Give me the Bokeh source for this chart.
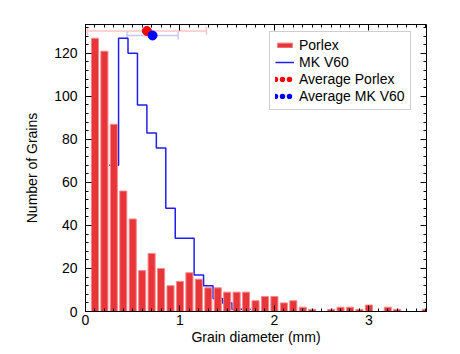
from bokeh.plotting import figure
from bokeh.models import (Range1d, LinearAxis, Legend, LegendItem, Whisker, ColumnDataSource,
                          SingleIntervalTicker, TeeHead, CustomJSTickFormatter)
from bokeh.embed import file_html
from bokeh.resources import INLINE

# ---- data ----
porlex_bins = [0.1, 0.2, 0.3, 0.4, 0.5, 0.6, 0.7, 0.8, 0.9, 1.0, 1.1, 1.2, 1.3, 1.4, 1.5, 1.6, 1.7, 1.8,
               1.9, 2.0, 2.1, 2.2, 2.3, 2.4, 2.5, 2.6, 2.7, 2.8, 2.9, 3.0, 3.1, 3.2, 3.3, 3.4, 3.5, 3.6]
porlex_counts = [127, 121, 87, 56, 43, 19, 27, 20, 12, 14, 18, 15, 11, 11, 9, 9, 9, 5,
                 7, 7, 4, 5, 2, 1, 0, 1, 2, 2, 1, 3, 0, 2, 1, 0, 0, 1]

mk_bins = [0.3, 0.4, 0.5, 0.6, 0.7, 0.8, 0.9, 1.0, 1.1, 1.2, 1.3, 1.4, 1.5, 1.6, 1.7]
mk_counts = [68, 127, 120, 96, 83, 76, 48, 34, 34, 17, 12, 6, 4, 1, 1]
bin_width = 0.1

avg_porlex_mean = 0.65
avg_porlex_std = 0.63
avg_porlex_y = 130.4
avg_mk_mean = 0.71
avg_mk_std = 0.27
avg_mk_y = 128.3

x_ticks_interval = 1
y_ticks_interval = 20

FONT = "Liberation Sans"

p = figure(width=460, height=354, x_range=Range1d(0, 3.61), y_range=Range1d(0, 133.4),
           output_backend="svg", toolbar_location=None,
           min_border_left=85, min_border_right=34, min_border_top=24, min_border_bottom=43)
p.grid.visible = False
p.outline_line_color = None

# step outline for MK V60
sx, sy = [], []
for c, v in zip(mk_bins, mk_counts):
    sx += [c - bin_width / 2, c + bin_width / 2]
    sy += [v, v]
step = p.line(sx, sy, line_color="#1e1ef0", line_width=1.5)

bars = p.vbar(x=porlex_bins, top=porlex_counts, width=0.075, bottom=0,
              fill_color="#e8353a", line_color="#f08a8c", line_width=1)

# error bars
src_p = ColumnDataSource(dict(y=[avg_porlex_y], lo=[avg_porlex_mean - avg_porlex_std],
                              hi=[avg_porlex_mean + avg_porlex_std]))
src_m = ColumnDataSource(dict(y=[avg_mk_y], lo=[avg_mk_mean - avg_mk_std],
                              hi=[avg_mk_mean + avg_mk_std]))
for src, col in ((src_p, "#ffc4c4"), (src_m, "#c8c8ff")):
    w = Whisker(source=src, base="y", lower="lo", upper="hi", dimension="width",
                line_color=col, line_width=1.5,
                upper_head=TeeHead(size=8, line_color=col, line_width=1.5),
                lower_head=TeeHead(size=8, line_color=col, line_width=1.5))
    p.add_layout(w)

p.scatter([avg_porlex_mean], [avg_porlex_y], size=9, fill_color="#ff0000", line_color="#ff0000")
p.scatter([avg_mk_mean], [avg_mk_y], size=9, fill_color="#0000ff", line_color="#0000ff")

# legend proxies (three dots)
dots_p = p.line([avg_porlex_mean], [avg_porlex_y], line_color="#ff0000", line_width=5.5,
                line_cap="round", line_dash="0 7")
dots_m = p.line([avg_mk_mean], [avg_mk_y], line_color="#0000ff", line_width=5.5,
                line_cap="round", line_dash="0 7")

legend = Legend(items=[
    LegendItem(label="Porlex", renderers=[bars]),
    LegendItem(label="MK V60", renderers=[step]),
    LegendItem(label="Average Porlex", renderers=[dots_p]),
    LegendItem(label="Average MK V60", renderers=[dots_m]),
], location=(184, 201))
legend.label_text_font = FONT
legend.label_text_font_size = "14px"
legend.label_text_color = "black"
legend.border_line_color = "#a0a0a0"
legend.border_line_width = 1.5
legend.background_fill_color = "white"
legend.background_fill_alpha = 1
legend.padding = 5
legend.spacing = 1
legend.margin = 0
legend.label_height = 14
legend.glyph_height = 6
legend.glyph_width = 19
legend.label_standoff = 5
p.add_layout(legend)

# axes
top = LinearAxis(formatter=CustomJSTickFormatter(code="return ''"))
right = LinearAxis(formatter=CustomJSTickFormatter(code="return ''"))
p.add_layout(top, "above")
p.add_layout(right, "right")

for ax in [p.below[0], top]:
    ax.ticker = SingleIntervalTicker(interval=x_ticks_interval, num_minor_ticks=10)
for ax in [p.left[0], right]:
    ax.ticker = SingleIntervalTicker(interval=y_ticks_interval, num_minor_ticks=5)

for ax in [p.below[0], top, p.left[0], right]:
    ax.major_tick_in = 6
    ax.major_tick_out = 0
    ax.minor_tick_in = 3
    ax.minor_tick_out = 0
    ax.axis_line_color = "black"
    ax.axis_line_width = 1
    ax.major_tick_line_color = "black"
    ax.minor_tick_line_color = "black"
    ax.major_label_text_font = FONT
    ax.major_label_text_font_size = "14px"
    ax.major_label_text_color = "black"

p.below[0].axis_label = "Grain diameter (mm)"
p.left[0].axis_label = "Number of Grains"
for ax in [p.below[0], p.left[0]]:
    ax.axis_label_text_font = FONT
    ax.axis_label_text_font_size = "14px"
    ax.axis_label_text_font_style = "normal"
    ax.axis_label_text_color = "black"
p.below[0].major_label_standoff = 3
p.below[0].axis_label_standoff = 1
p.left[0].major_label_standoff = 8
p.left[0].axis_label_standoff = 11
top.major_label_standoff = 0
right.major_label_standoff = 0

open("out.html", "w").write(file_html(p, INLINE))
